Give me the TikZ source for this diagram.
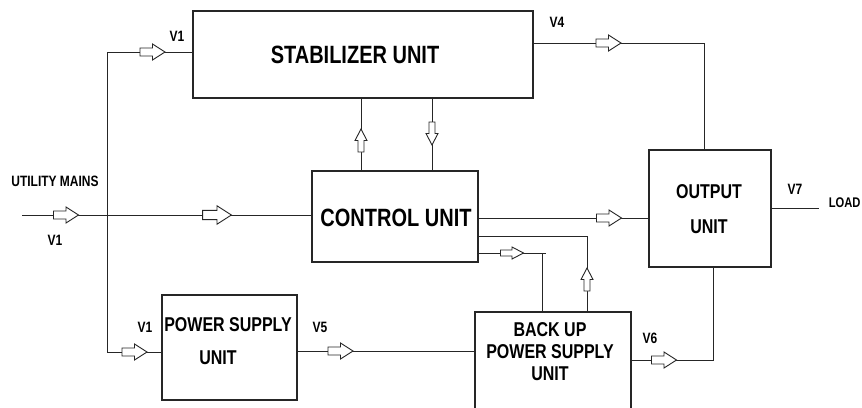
\documentclass[tikz,border=0pt]{standalone}
\usepackage{fontspec}
\newfontfamily\labfont[FakeStretch=0.8]{Liberation Sans}
\begin{document}
\begin{tikzpicture}[x=1pt,y=-1pt,line width=1pt,
  box/.style={draw=black!85,line width=1.1pt,rectangle,inner sep=0pt},
  big/.style={font=\labfont\bfseries\fontsize{25}{28}\selectfont},
  mid/.style={font=\labfont\bfseries\fontsize{20}{22}\selectfont,align=center},
  small/.style={font=\labfont\bfseries\fontsize{15}{17}\selectfont},
  wire/.style={draw=black!85,line width=1pt},
  harrow/.pic={\draw[black!85,line width=0.9pt,fill=white] (-12.5,-4)--(0,-4)--(0,-8)--(12.5,0)--(0,8)--(0,4)--(-12.5,4)--cycle;},
  varrow/.pic={\draw[black!85,line width=0.9pt,fill=white] (-11.5,-3)--(0,-3)--(0,-6)--(11.5,0)--(0,6)--(0,3)--(-11.5,3)--cycle;}
]
\clip (0,0) rectangle (862,407);
\fill[white] (0,0) rectangle (862,407);

% boxes
\node[box,minimum width=340pt,minimum height=87pt] (stab) at (363,54.5) {};
\node[box,minimum width=166pt,minimum height=91pt] (control) at (395,216.5) {};
\node[box,minimum width=122pt,minimum height=117pt] (out) at (710,208.5) {};
\node[box,minimum width=135pt,minimum height=105pt] (ps) at (229.5,347.5) {};
\node[box,minimum width=156pt,minimum height=110pt] (backup) at (553,367) {};

% box texts
\node[big] (stabtext) at (355,55) {STABILIZER UNIT};
\node[big] (controltext) at (396,218) {CONTROL UNIT};
\node[mid] (outtext1) at (709,192) {OUTPUT};
\node[mid] (outtext2) at (709,227) {UNIT};
\node[mid] (pstext1) at (228,325) {POWER SUPPLY};
\node[mid] (pstext2) at (218,358) {UNIT};
\node[mid] (backuptext) at (550,352) {BACK UP\\POWER SUPPLY\\UNIT};

% coordinates
\coordinate (mainsin) at (22,215);
\coordinate (topc) at (107,52);
\coordinate (junc) at (107,215);
\coordinate (botc) at (107,352);
\coordinate (v4c) at (704,43);
\coordinate (upx) at (361,0);
\coordinate (downx) at (432,0);
\coordinate (c2o) at (649,218);
\coordinate (c2b) at (587,236);
\coordinate (c2bb) at (542,253);
\coordinate (c2bbend) at (546,253);
\coordinate (ps2b) at (475,351);
\coordinate (b2o) at (713,360);
\coordinate (loadend) at (819,208);

% wires
\draw[wire] (mainsin) -- (mainsin -| control.west);
\draw[wire] (topc -| stab.west) -- (topc) -- (botc) -- (botc -| ps.west);
\draw[wire] (v4c -| stab.east) -- (v4c) -- (v4c |- out.north);
\draw[wire] (upx |- control.north) -- (upx |- stab.south);
\draw[wire] (downx |- control.north) -- (downx |- stab.south);
\draw[wire] (c2o -| control.east) -- (c2o);
\draw[wire] (c2b -| control.east) -- (c2b) -- (c2b |- backup.north);
\draw[wire] (c2bb -| control.east) -- (c2bbend);
\draw[wire] (c2bb) -- (c2bb |- backup.north);
\draw[wire] (ps2b -| ps.east) -- (ps2b);
\draw[wire] (b2o -| backup.east) -- (b2o) -- (b2o |- out.south);
\draw[wire] (loadend -| out.east) -- (loadend);

% hollow arrows
\pic at (152.5,52) {harrow};
\pic at (66,215) {harrow};
\pic[scale=1.15] at (217,215) {harrow};
\pic at (134.5,352) {harrow};
\pic at (608.5,43) {harrow};
\pic at (609,218) {harrow};
\pic at (512,253) {varrow};
\pic at (340.5,351) {harrow};
\pic at (664,360) {harrow};
\pic[rotate=90] at (361,140.5) {varrow};
\pic[rotate=-90] at (432,133.5) {varrow};
\pic[rotate=90] at (587,279.5) {varrow};

% labels
\node[small] (lv1a) at (177,36) {V1};
\node[small] (lmains) at (55,181) {UTILITY MAINS};
\node[small] (lv1b) at (55,240) {V1};
\node[small] (lv1c) at (145,327) {V1};
\node[small] (lv5) at (320,327) {V5};
\node[small] (lv6) at (650,338) {V6};
\node[small] (lv4) at (557,22) {V4};
\node[small] (lv7) at (795,189) {V7};
\node[small,font=\labfont\bfseries\fontsize{14}{16}\selectfont,anchor=east,inner sep=0pt] (lload) at (861,203) {LOAD};
\end{tikzpicture}
\end{document}
